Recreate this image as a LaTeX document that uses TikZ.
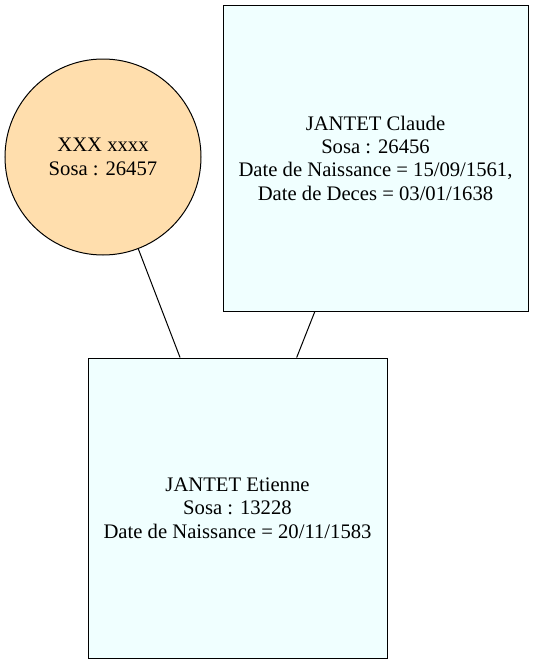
\documentclass[tikz,border=0pt]{standalone}
\usepackage{fontspec}
\setmainfont{Liberation Serif}
\usetikzlibrary{positioning}
\definecolor{GPeach}{HTML}{FFDEAD}
\definecolor{GAzure}{HTML}{F0FFFF}

\begin{document}
\begin{tikzpicture}[x=0.75pt,y=-0.75pt,
    person/.style={draw=black,line width=0.75pt,fill=GAzure,align=center,font=\fontsize{15.5}{17.5}\selectfont,inner sep=0pt},
    unknown/.style={circle,draw=black,line width=0.75pt,fill=GPeach,align=center,font=\fontsize{15.5}{17.5}\selectfont,inner sep=0pt,minimum size=147pt}]
    \useasboundingbox (0,0) rectangle (534,664);
    
    \node[unknown] (xxx) at (103,157) {XXX xxxx\\Sosa : 26457};
    
    \node[person,minimum width=228.75pt,minimum height=229.5pt] (claude) at (375.5,158) {JANTET Claude\\Sosa : 26456\\Date de Naissance = 15/09/1561,\\Date de Deces = 03/01/1638};
    
    \node[person,minimum width=224.25pt,minimum height=225pt] (etienne) at (237.5,508) {JANTET Etienne\\Sosa : 13228\\Date de Naissance = 20/11/1583};
    
    \draw[line width=0.75pt] (xxx) -- (etienne);
    \draw[line width=0.75pt] (claude) -- (etienne);
  \end{tikzpicture}
\end{document}
